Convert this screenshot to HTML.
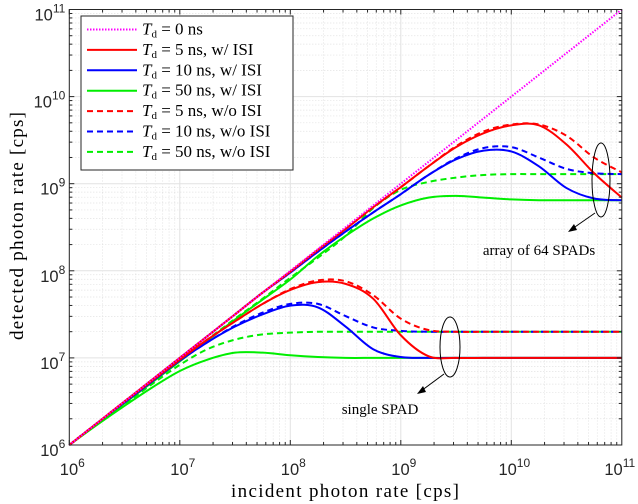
<!DOCTYPE html>
<html><head><meta charset="utf-8"><style>
html,body{margin:0;padding:0;background:#fff;}
svg{display:block;}
</style></head><body>
<svg id="chart" width="638" height="504" xmlns="http://www.w3.org/2000/svg">
<g id="grid"></g>
<g id="series"></g>
<g id="axes"></g>
<g id="annot">
  <ellipse cx="601" cy="180" rx="9" ry="37" fill="none" stroke="#000" stroke-width="1"/>
  <line x1="595" y1="213" x2="572" y2="229" stroke="#000" stroke-width="1"/>
  <polygon points="568,232 574,224 577,230" fill="#000"/>
  <text x="539" y="255" font-family="Liberation Serif, serif" font-size="15" text-anchor="middle">array of 64 SPADs</text>
  <ellipse cx="450" cy="347" rx="10" ry="30" fill="none" stroke="#000" stroke-width="1"/>
  <line x1="444" y1="374" x2="421" y2="391" stroke="#000" stroke-width="1"/>
  <polygon points="417,394 423,386 426,392" fill="#000"/>
  <text x="380" y="414" font-family="Liberation Serif, serif" font-size="15" text-anchor="middle">single SPAD</text>
</g>
<g id="legend"></g>
<text x="345" y="497" font-family="Liberation Serif, serif" font-size="19" text-anchor="middle" textLength="228">incident photon rate [cps]</text>
<text transform="translate(23,226) rotate(-90)" font-family="Liberation Serif, serif" font-size="19" text-anchor="middle" textLength="228">detected photon rate [cps]</text>
</svg>
<script>
const xGrid = [6,6.25,6.5,6.75,7,7.25,7.5,7.75,8,8.25,8.5,8.75,9,9.25,9.5,9.75,10,10.25,10.5,10.75,11];
const tdZero = [6,6.25,6.5,6.75,7,7.25,7.5,7.75,8,8.25,8.5,8.75,9,9.25,9.5,9.75,10,10.25,10.5,10.75,11];
const redArr = [6,6.25,6.5,6.75,7,7.25,7.5,7.75,7.99,8.24,8.48,8.73,8.96,9.2,9.42,9.58,9.67,9.67,9.45,9.12,8.84];
const redArrNoIsi = [6,6.25,6.5,6.75,7,7.25,7.5,7.75,7.99,8.24,8.48,8.73,8.96,9.2,9.43,9.6,9.68,9.68,9.55,9.3,9.13];
const blueArr = [6,6.25,6.5,6.75,7,7.25,7.5,7.75,7.98,8.22,8.45,8.67,8.88,9.1,9.28,9.38,9.37,9.2,8.95,8.83,8.81];
const blueArrNoIsi = [6,6.25,6.5,6.75,7,7.25,7.5,7.75,7.98,8.22,8.45,8.67,8.88,9.1,9.29,9.41,9.42,9.3,9.17,9.12,9.11];
const greenArr = [6,6.24,6.48,6.72,6.96,7.2,7.44,7.67,7.9,8.17,8.4,8.6,8.75,8.84,8.86,8.84,8.82,8.81,8.81,8.81,8.81];
const greenArrNoIsi = [6,6.25,6.49,6.73,6.97,7.21,7.45,7.68,7.92,8.15,8.4,8.72,8.93,9.02,9.07,9.1,9.11,9.11,9.11,9.11,9.11];
const redSingle = [6,6.25,6.5,6.74,6.98,7.21,7.42,7.62,7.78,7.87,7.85,7.68,7.26,7.02,7,7,7,7,7,7,7];
const redSingleNoIsi = [6,6.25,6.5,6.74,6.98,7.21,7.42,7.62,7.79,7.89,7.88,7.72,7.45,7.32,7.3,7.3,7.3,7.3,7.3,7.3,7.3];
const blueSingle = [6,6.25,6.49,6.73,6.97,7.18,7.36,7.5,7.6,7.58,7.36,7.1,7.01,7,7,7,7,7,7,7,7];
const blueSingleNoIsi = [6,6.25,6.49,6.73,6.97,7.18,7.37,7.52,7.62,7.62,7.48,7.35,7.31,7.3,7.3,7.3,7.3,7.3,7.3,7.3,7.3];
const greenSingle = [6,6.23,6.45,6.66,6.85,6.98,7.06,7.06,7.03,7.01,7,7,7,7,7,7,7,7,7,7,7];
const greenSingleNoIsi = [6,6.24,6.47,6.7,6.92,7.1,7.21,7.27,7.29,7.3,7.3,7.3,7.3,7.3,7.3,7.3,7.3,7.3,7.3,7.3,7.3];
const xTicks = [6,7,8,9,10,11];
const yTicks = [6,7,8,9,10,11];
const legendLabels = ["0 ns","5 ns, w/ ISI","10 ns, w/ ISI","50 ns, w/ ISI","5 ns, w/o ISI","10 ns, w/o ISI","50 ns, w/o ISI"];

const NS='http://www.w3.org/2000/svg';
const L=69.3,R=621.8,T=9.5,B=445;
const X=u=>L+(u-6)*(R-L)/5;
const Y=v=>B-(v-6)*(B-T)/5;
function mk(tag,attrs,parent){const e=document.createElementNS(NS,tag);for(const k in attrs)e.setAttribute(k,attrs[k]);parent.appendChild(e);return e;}

const grid=document.getElementById('grid');
for(let d=6;d<11;d++){for(let m=2;m<=9;m++){const lv=d+Math.log10(m);
 const gx=mk('line',{x1:X(lv),x2:X(lv),y1:T,y2:B,stroke:'#d8d8d8','stroke-width':0.7,'stroke-dasharray':'1,2'},grid);
 
 const gy=mk('line',{x1:L,x2:R,y1:Y(lv),y2:Y(lv),stroke:'#d8d8d8','stroke-width':0.7,'stroke-dasharray':'1,2'},grid);
 }}
xTicks.forEach(t=>{const g=mk('line',{x1:X(t),x2:X(t),y1:T,y2:B,stroke:'#e2e2e2','stroke-width':1},grid);
 });
yTicks.forEach(t=>{const g=mk('line',{x1:L,x2:R,y1:Y(t),y2:Y(t),stroke:'#e2e2e2','stroke-width':1},grid);
 });

function pathFrom(vals){const pts=xGrid.map((u,i)=>[X(u),Y(vals[i])]);
 let d='M'+pts[0][0].toFixed(2)+','+pts[0][1].toFixed(2);
 for(let i=0;i<pts.length-1;i++){const p0=pts[Math.max(0,i-1)],p1=pts[i],p2=pts[i+1],p3=pts[Math.min(pts.length-1,i+2)];
  const c1=[p1[0]+(p2[0]-p0[0])/6,p1[1]+(p2[1]-p0[1])/6],c2=[p2[0]-(p3[0]-p1[0])/6,p2[1]-(p3[1]-p1[1])/6];
  d+=' C'+c1.map(v=>v.toFixed(2))+' '+c2.map(v=>v.toFixed(2))+' '+p2.map(v=>v.toFixed(2));}
 return d;}
const series=document.getElementById('series');
const defs=[
 [greenSingle,'#00ee00',''],[greenSingleNoIsi,'#00ee00','6,4'],[greenArr,'#00ee00',''],[greenArrNoIsi,'#00ee00','6,4'],
 [blueSingle,'#0000ff',''],[blueSingleNoIsi,'#0000ff','6,4'],[blueArr,'#0000ff',''],[blueArrNoIsi,'#0000ff','6,4'],
 [redSingle,'#ff0000',''],[redSingleNoIsi,'#ff0000','6,4'],[redArr,'#ff0000',''],[redArrNoIsi,'#ff0000','6,4'],
 [tdZero,'#ff00ff','1.5,1.5']];
const names=['green-single-isi','green-single-no-isi','green-array-isi','green-array-no-isi','blue-single-isi','blue-single-no-isi','blue-array-isi','blue-array-no-isi','red-single-isi','red-single-no-isi','red-array-isi','red-array-no-isi','td-zero-line'];
defs.forEach((s,i)=>{const p=mk('path',{d:pathFrom(s[0]),fill:'none',stroke:s[1],'stroke-width':2,'stroke-dasharray':s[2]},series);
 });

const axes=document.getElementById('axes');
const box=mk('rect',{x:L,y:T,width:R-L,height:B-T,fill:'none',stroke:'#262626','stroke-width':1},axes);

for(let d=6;d<11;d++){for(let m=1;m<=9;m++){const lv=d+Math.log10(m);const len=m===1?5:3;
 mk('line',{x1:X(lv),x2:X(lv),y1:B,y2:B-len,stroke:'#262626'},axes);mk('line',{x1:X(lv),x2:X(lv),y1:T,y2:T+len,stroke:'#262626'},axes);
 mk('line',{x1:L,x2:L+len,y1:Y(lv),y2:Y(lv),stroke:'#262626'},axes);mk('line',{x1:R,x2:R-len,y1:Y(lv),y2:Y(lv),stroke:'#262626'},axes);}}
xTicks.forEach(t=>{const tx=mk('text',{x:X(t)+(t===11?-2:3),y:B+30,'font-family':'Liberation Sans, sans-serif','font-size':16.5,'text-anchor':'middle',fill:'#262626'},axes);
 
 tx.innerHTML='10<tspan dy="-8" font-size="12">'+t+'</tspan>';});
yTicks.forEach(t=>{const tx=mk('text',{x:L-4,y:Y(t)+11,'font-family':'Liberation Sans, sans-serif','font-size':16.5,'text-anchor':'end',fill:'#262626'},axes);
 
 tx.innerHTML='10<tspan dy="-8" font-size="12">'+t+'</tspan>';});

const lg=document.getElementById('legend');
const lb=mk('rect',{x:81,y:16,width:212,height:154,fill:'#fff',stroke:'#262626','stroke-width':1},lg);

const lcol=['#ff00ff','#ff0000','#0000ff','#00ee00','#ff0000','#0000ff','#00ee00'];
const ldash=['1.5,1.5','','','','6,4','6,4','6,4'];
legendLabels.forEach((lab,i)=>{const y=29.5+i*20.4;
 const ln=mk('line',{x1:87,x2:137,y1:y,y2:y,stroke:lcol[i],'stroke-width':2,'stroke-dasharray':ldash[i]},lg);
 
 const tx=mk('text',{x:142,y:y+5,'font-family':'Liberation Serif, serif','font-size':17},lg);
 
 tx.innerHTML='<tspan font-style="italic">T</tspan><tspan font-size="11" dy="3">d</tspan><tspan dy="-3"> = '+lab+'</tspan>';});
</script>
</body></html>
